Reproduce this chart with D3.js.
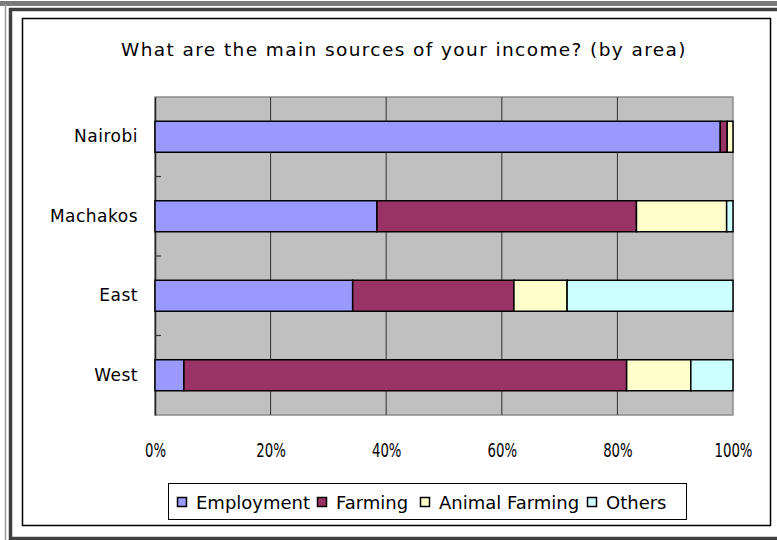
<!DOCTYPE html>
<html>
<head>
<meta charset="utf-8">
<script src="https://cdn.jsdelivr.net/npm/d3@7"></script>
<style>
  html, body { margin: 0; padding: 0; background: #fff; }
  svg { display: block; }
  text { font-family: "DejaVu Sans", sans-serif; fill: #000; }
</style>
</head>
<body>
<script>
// Income sources by area (share of respondents, %)
const areas = ["Nairobi", "Machakos", "East", "West"];
const sources = ["Employment", "Farming", "Animal Farming", "Others"];
const employment    = [97.8, 38.4, 34.2, 5.0];
const farming       = [1.2, 44.9, 27.9, 76.6];
const animalFarming = [1.0, 15.6, 9.2, 11.1];
const others        = [0.0, 1.1, 28.7, 7.3];
const tickValues = [0, 20, 40, 60, 80, 100];
const tickLabels = ["0%", "20%", "40%", "60%", "80%", "100%"];
const colors = ["#9999FF", "#993366", "#FFFFCC", "#CCFFFF"];

const W = 777, H = 540;
const svg = d3.select("body").append("svg").attr("width", W).attr("height", H);

// Outer window frame
svg.append("rect").attr("x", 0).attr("y", 1).attr("width", W).attr("height", 5).attr("fill", "#7a7a7a");
svg.append("line").attr("x1", 5.5).attr("x2", 5.5).attr("y1", 4).attr("y2", H).attr("stroke", "#9a9a9a").attr("stroke-width", 1.5);
svg.append("rect").attr("x", 10.5).attr("y", 9.5).attr("width", W).attr("height", 529)
  .attr("fill", "none").attr("stroke", "#404040").attr("stroke-width", 3.5);

// Chart area border
svg.append("rect").attr("x", 22.5).attr("y", 18.5).attr("width", 748).attr("height", 507)
  .attr("fill", "#fff").attr("stroke", "#000").attr("stroke-width", 1.5);

// Title
svg.append("text").attr("x", 404).attr("y", 56).attr("text-anchor", "middle")
  .style("font-size", "18.5px").style("letter-spacing", "1.4px")
  .text("What are the main sources of your income? (by area)");

const plot = { left: 155, right: 733, top: 97, bottom: 415 };

const x = d3.scaleLinear().domain([0, 100]).range([plot.left, plot.right]);
const y = d3.scaleBand().domain(areas).range([plot.top, plot.bottom]).paddingInner(0.61).paddingOuter(0.305);
const yBand = d3.scaleBand().domain(areas).range([plot.top, plot.bottom]);

// Plot background
svg.append("rect").attr("x", plot.left).attr("y", plot.top)
  .attr("width", plot.right - plot.left).attr("height", plot.bottom - plot.top)
  .attr("fill", "#C0C0C0").attr("stroke", "#8c8c8c").attr("stroke-width", 1.5);

// Vertical gridlines
svg.append("g").selectAll("line").data(tickValues.slice(1, -1)).join("line")
  .attr("x1", d => x(d)).attr("x2", d => x(d))
  .attr("y1", plot.top).attr("y2", plot.bottom)
  .attr("stroke", "#333").attr("stroke-width", 1);

// Category axis
const yAxis = svg.append("g").attr("transform", `translate(${plot.left},0)`)
  .call(d3.axisLeft(y).tickSize(0).tickPadding(17));
yAxis.select(".domain").attr("stroke", "#222").attr("stroke-width", 1.5);
yAxis.selectAll("text").style("font-size", "17px").style("letter-spacing", "0.5px")
  .style("font-family", "DejaVu Sans, sans-serif");

// Minor ticks between categories
svg.append("g").selectAll("line").data(areas.slice(1)).join("line")
  .attr("x1", plot.left).attr("x2", plot.left + 6)
  .attr("y1", d => yBand(d)).attr("y2", d => yBand(d))
  .attr("stroke", "#333").attr("stroke-width", 1.2);

// Value axis labels (tall, narrow digits)
const xAxis = svg.append("g").attr("transform", `translate(0,${plot.bottom})`)
  .call(d3.axisBottom(x).tickValues(tickValues).tickFormat((d, i) => tickLabels[i]).tickSize(0).tickPadding(0));
xAxis.select(".domain").remove();
xAxis.selectAll("text")
  .attr("x", 0).attr("y", 0).attr("dy", 0)
  .attr("transform", "translate(0,42) scale(0.7,1)")
  .style("font-size", "19px").style("font-family", "DejaVu Sans, sans-serif");

// Stacked bars
const rows = areas.map((a, i) => ({ area: a, Employment: employment[i], Farming: farming[i], "Animal Farming": animalFarming[i], Others: others[i] }));
const stacked = d3.stack().keys(sources)(rows);

svg.append("g").selectAll("g").data(stacked).join("g")
  .attr("fill", (d, i) => colors[i])
  .selectAll("rect").data(d => d.filter(s => s[1] - s[0] > 0)).join("rect")
  .attr("x", d => x(d[0])).attr("width", d => x(d[1]) - x(d[0]))
  .attr("y", d => y(d.data.area)).attr("height", y.bandwidth())
  .attr("stroke", "#000").attr("stroke-width", 1.5);

// Legend
const legend = svg.append("g");
legend.append("rect").attr("x", 168.5).attr("y", 483.5).attr("width", 518).attr("height", 36)
  .attr("fill", "#fff").attr("stroke", "#000").attr("stroke-width", 1);
const legendX = [177, 317, 420, 587];
sources.forEach((s, i) => {
  legend.append("rect").attr("x", legendX[i] + 0.5).attr("y", 497.5).attr("width", 9).attr("height", 9)
    .attr("fill", colors[i]).attr("stroke", "#000").attr("stroke-width", 1.5);
  legend.append("text").attr("x", legendX[i] + 19).attr("y", 509)
    .style("font-size", "18px").text(s);
});
</script>
</body>
</html>
